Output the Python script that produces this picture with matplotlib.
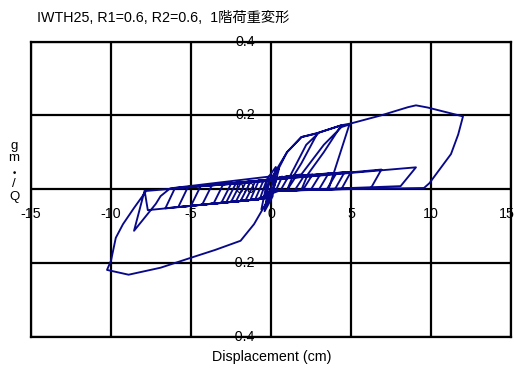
import matplotlib
matplotlib.use('Agg')
import matplotlib.pyplot as plt

plt.rcParams['font.family'] = ['Liberation Sans', 'Noto Sans CJK JP', 'DejaVu Sans']

title = 'IWTH25, R1=0.6, R2=0.6,  1階荷重変形'
xlabel = 'Displacement (cm)'
xticks = [-15, -10, -5, 0, 5, 10, 15]
yticks = [-0.4, -0.2, 0.0, 0.2, 0.4]
xtick_labels = ['-15', '-10', '-5', '0', '5', '10', '15']
ytick_labels = ['-0.4', '-0.2', '0.0', '0.2', '0.4']

# displacement (cm) / normalised load
disp = [0.0,
        0.2, 0.5, 0.1, -0.3, -0.6, -0.2, 0.3, 0.1, -0.4, -0.1,
        0.4, 0.1, -0.4, -0.1,
        0.7, 0.3, -0.7, -0.3,
        1.1, 0.6, -1.0, -0.5,
        0.2, 1.0, 1.9, 2.9, 1.9, 1.3, 1.0, 0.0, -0.5, -1.3, -0.8,
        1.6, 1.0, 0.0, -0.5, -1.6, -1.0,
        1.2, 2.2, 3.0, 4.4, 3.3, 2.3, 1.9, 0.0, -0.5, -1.9, -1.3,
        2.1, 1.5, 0.0, -0.5, -2.2, -1.6,
        1.9, 3.3, 4.4, 4.9, 3.9, 3.6, 0.0, -0.5, -2.5, -1.9,
        2.6, 2.0, 0.0, -0.5, -2.8, -2.2,
        3.1, 2.5, 0.0, -0.5, -3.1, -2.5,
        3.6, 3.0, 0.0, -0.5, -3.6, -3.0,
        4.1, 3.5, 0.0, -0.5, -4.3, -3.7,
        4.6, 4.0, 0.0, -0.5, -5.0, -4.4,
        5.0, 4.4, 0.0, -0.5, -5.8, -5.2,
        6.9, 6.25, 0.0, -0.5, -6.6, -6.0,
        9.06, 8.1, 0.0, -0.5, -7.7, -7.9,
        -8.56, -7.2, -6.9, -6.3,
        0.1, 1.0, 1.9, 2.9, 4.4, 5.0, 6.9, 8.56, 9.06, 9.8, 12.0,
        11.7, 11.25, 10.6, 9.9, 9.56,
        5.0, 0.0, -0.3, -1.06, -1.9, -3.5, -5.0, -6.9, -8.9, -10.25,
        -10.0, -9.7, -9.25, -8.56, -7.8, -4.0, -1.5]
load = [0.0,
        0.04, 0.055, -0.01, -0.045, -0.055, 0.03, 0.06, -0.02, -0.06, 0.025,
        0.033, -0.004, -0.026, 0.021,
        0.034, -0.004, -0.027, 0.021,
        0.035, -0.003, -0.029, 0.020,
        0.032, 0.10, 0.141, 0.151, 0.07, 0.028, -0.003, -0.005, -0.026, -0.030, 0.019,
        0.037, -0.003, -0.005, -0.026, -0.031, 0.019,
        0.036, 0.12, 0.153, 0.173, 0.10, 0.04, -0.002, -0.005, -0.026, -0.032, 0.018,
        0.038, -0.002, -0.005, -0.026, -0.034, 0.017,
        0.040, 0.12, 0.168, 0.175, 0.04, 0.0, -0.005, -0.026, -0.035, 0.016,
        0.040, -0.002, -0.005, -0.026, -0.036, 0.015,
        0.041, -0.001, -0.005, -0.026, -0.037, 0.014,
        0.043, -0.001, -0.005, -0.026, -0.040, 0.012,
        0.044, 0.0, -0.005, -0.026, -0.042, 0.010,
        0.046, 0.0, -0.005, -0.026, -0.045, 0.008,
        0.047, 0.0, -0.005, -0.026, -0.049, 0.005,
        0.053, 0.003, -0.005, -0.026, -0.052, 0.003,
        0.059, 0.008, -0.005, -0.026, -0.057, -0.004,
        -0.113, -0.04, -0.019, 0.002,
        0.035, 0.10, 0.141, 0.152, 0.173, 0.178, 0.20, 0.222, 0.227, 0.221, 0.197,
        0.148, 0.095, 0.057, 0.016, 0.003,
        0.0, -0.005, -0.038, -0.095, -0.14, -0.165, -0.186, -0.213, -0.232, -0.219,
        -0.194, -0.132, -0.095, -0.051, -0.005, 0.009, 0.017]

fig = plt.figure(figsize=(5.14, 3.71), dpi=100)
ax = fig.add_axes([31/514, 34.3/371, 480/514, 295.2/371])
ax.set_xlim(-15, 15)
ax.set_ylim(-0.4, 0.4)
ax.set_xticks([])
ax.set_yticks([])
for s in ax.spines.values():
    s.set_linewidth(1.6)
    s.set_zorder(3)

for x in xticks:
    ax.axvline(x, color='black', lw=1.6, zorder=3)
for y in yticks:
    ax.axhline(y, color='black', lw=1.6, zorder=3)

ax.plot(disp, load, color='#08088a', lw=1.35, zorder=4, clip_on=False)

for x, lab in zip(xticks, xtick_labels):
    # last label sits against the right edge of the picture
    xx = 14.75 if x == 15 else x
    ax.text(xx, -0.0665, lab, ha='center', va='center', fontsize=10.3, zorder=2, clip_on=False)
for y, lab in zip(yticks, ytick_labels):
    ax.text(-1.0, y, lab, ha='right', va='center', fontsize=10.3, zorder=2, clip_on=False)

fig.text(37/514, 1 - 18/371, title, ha='left', va='center', fontsize=10.3)
fig.text(272/514, 1 - 357/371, xlabel, ha='center', va='center', fontsize=10.3)

# stacked y label characters
for ch, py in [('g', 146), ('m', 158), ('・', 174), ('/', 184), ('Q', 197)]:
    fig.text(14/514, 1 - py/371, ch, ha='center', va='center', fontsize=9.5)

fig.savefig('out.png', dpi=100)
